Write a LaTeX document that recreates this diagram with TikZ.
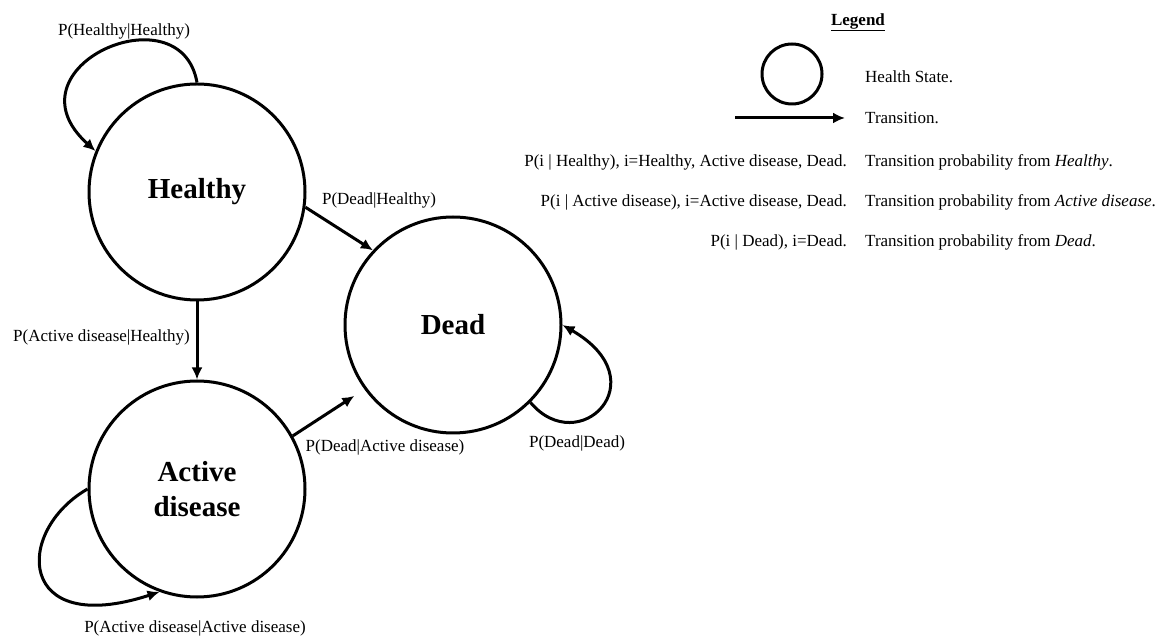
\documentclass[tikz,border=0pt]{standalone}
\usepackage{fontspec}
\setmainfont{Liberation Serif}
\usetikzlibrary{arrows.meta, positioning}

\tikzset{
  healthstate/.style={circle, draw, line width=3pt, minimum size=216pt, inner sep=0pt,
    align=center, font=\fontsize{29}{35}\selectfont\bfseries},
  trans/.style={-{Latex[length=12pt,width=11pt]}, line width=3pt},
  prob/.style={font=\fontsize{17}{20}\selectfont, inner sep=0pt},
}

\begin{document}
\begin{tikzpicture}[x=1pt,y=1pt]
  \useasboundingbox (0,0) rectangle (1158,637);
  % Health states
  \node[healthstate] (healthy) at (197,445) {Healthy};
  \node[healthstate] (active) at (197,148) {Active\\disease};
  \node[healthstate] (dead) at (453,312) {Dead};
  % Transitions between states
  \draw[trans] (healthy.south) -- (active.north);
  \draw[trans] (healthy.-8) -- (dead.137);
  \draw[trans, shorten >=12pt] (active.29) -- (dead.216);
  % Staying in the same state
  \draw[trans] (healthy.90) .. controls +(100:95) and +(138:125) .. (healthy.158);
  \draw[trans] (active.180) .. controls +(210:85) and +(198:150) .. (active.-110);
  \draw[trans] (dead.-45) .. controls +(-50:75) and +(-30:112) .. (dead.0);
  % Transition probabilities
  \node[prob] (lhh) at (124,606) {P(Healthy|Healthy)};
  \node[prob, anchor=east] (lah) at (190,300) {P(Active disease|Healthy)};
  \node[prob] (ldh) at (379,437) {P(Dead|Healthy)};
  \node[prob] (lda) at (385,190) {P(Dead|Active disease)};
  \node[prob] (ldd) at (577,194) {P(Dead|Dead)};
  \node[prob] (laa) at (195,9) {P(Active disease|Active disease)};
  % Legend
  \node[font=\fontsize{17}{20}\selectfont\bfseries] (legtitle) at (858,615) {\underline{Legend}};
  \node[draw, circle, line width=3pt, minimum size=60pt] (legstate) at (792,563) {};
  \node[prob, anchor=west] (legstatetxt) at (865,560) {Health State.};
  \coordinate (legfrom) at (735,519);
  \coordinate (legto) at (845,519);
  \draw[trans] (legfrom) -- (legto);
  \node[prob, anchor=west] (legtranstxt) at (865,519) {Transition.};
  \node[prob, anchor=east] (legh) at (847,475) {P(i | Healthy), i=Healthy, Active disease, Dead.};
  \node[prob, anchor=west] (leghtxt) at (865,475) {Transition probability from \textit{Healthy}.};
  \node[prob, anchor=east] (lega) at (847,435) {P(i | Active disease), i=Active disease, Dead.};
  \node[prob, anchor=west] (legatxt) at (865,435) {Transition probability from \textit{Active disease}.};
  \node[prob, anchor=east] (legd) at (847,395) {P(i | Dead), i=Dead.};
  \node[prob, anchor=west] (legdtxt) at (865,395) {Transition probability from \textit{Dead}.};
\end{tikzpicture}
\end{document}
